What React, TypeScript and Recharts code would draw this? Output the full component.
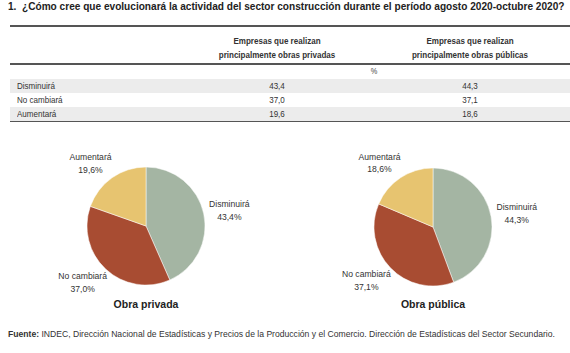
import { PieChart, Pie, Cell } from 'recharts'

const categories = ['Disminuirá', 'No cambiará', 'Aumentará']
const privadaValues = [43.4, 37.0, 19.6]
const publicaValues = [44.3, 37.1, 18.6]
const columnHeaders = [
  ['Empresas que realizan', 'principalmente obras privadas'],
  ['Empresas que realizan', 'principalmente obras públicas'],
]
const pieTitles = ['Obra privada', 'Obra pública']
const COLORS = ['#a4b5a3', '#a84c32', '#e7c470']

const TITLE = '1.  ¿Cómo cree que evolucionará la actividad del sector construcción durante el período agosto 2020-octubre 2020?'
const SOURCE = 'INDEC, Dirección Nacional de Estadísticas y Precios de la Producción y el Comercio. Dirección de Estadísticas del Sector Secundario.'

const fmt = (v: number) => v.toFixed(1).replace('.', ',')

const privadaData = categories.map((name, i) => ({ name, value: privadaValues[i] }))
const publicaData = categories.map((name, i) => ({ name, value: publicaValues[i] }))

const SANS = '"Liberation Sans", Arial, sans-serif'

const RADIAN = Math.PI / 180

function renderLabel(props: any) {
  const { cx, cy, midAngle, outerRadius, name, value } = props
  const r = outerRadius + 18
  const cos = Math.cos(-midAngle * RADIAN)
  const sin = Math.sin(-midAngle * RADIAN)
  const x = cx + r * cos + (cos >= 0 ? 8 : -11)
  const y = cy + r * sin
  return (
    <text x={x} y={y} textAnchor="middle" fontSize={8.6} fill="#333" fontFamily={SANS}>
      <tspan x={x} dy={-3}>{name}</tspan>
      <tspan x={x} dy={12.5}>{fmt(value)}%</tspan>
    </text>
  )
}

const colCenters = [277, 470]
const rowTops = [79, 93, 107]

// condensed look for the table text
const narrow = (extra: any = {}) => ({
  fontFamily: SANS,
  transform: 'scaleX(0.82)',
  ...extra,
})

export default function App() {
  return (
    <div style={{ position: 'fixed', left: 0, top: 0, width: 570, height: 353, background: '#fff', overflow: 'hidden' }}>
      <div style={{ position: 'absolute', left: 8, top: 1, fontFamily: SANS, fontWeight: 700, fontSize: 10.1, color: '#222', whiteSpace: 'pre' }}>
        {TITLE}
      </div>

      {/* table */}
      <div style={{ position: 'absolute', left: 10, top: 25, width: 560, height: 2, background: '#555' }} />
      <div style={{ position: 'absolute', left: 10, top: 63, width: 560, height: 2, background: '#555' }} />
      <div style={{ position: 'absolute', left: 10, top: 120, width: 560, height: 2, background: '#555' }} />
      {columnHeaders.map((lines, c) => (
        <div key={c} style={narrow({ position: 'absolute', left: colCenters[c] - 80, top: 34, width: 160, textAlign: 'center', transformOrigin: '80px 0', fontWeight: 700, fontSize: 9.8, lineHeight: '13.5px', color: '#333' })}>
          {lines[0]}<br />{lines[1]}
        </div>
      ))}
      <div style={narrow({ position: 'absolute', left: 362, top: 66, width: 24, textAlign: 'center', transformOrigin: '12px 0', fontSize: 9, color: '#444' })}>%</div>
      {categories.map((cat, i) => (
        <div key={cat} style={{ position: 'absolute', left: 10, top: rowTops[i], width: 560, height: 14, background: i === 1 ? '#fff' : '#ececec', fontFamily: SANS, fontSize: 9.8, lineHeight: '14px', color: '#333' }}>
          <span style={narrow({ position: 'absolute', left: 7, transformOrigin: '0 0' })}>{cat}</span>
          <span style={narrow({ position: 'absolute', left: colCenters[0] - 10 - 30, width: 60, textAlign: 'center', transformOrigin: '30px 0' })}>{fmt(privadaValues[i])}</span>
          <span style={narrow({ position: 'absolute', left: colCenters[1] - 10 - 30, width: 60, textAlign: 'center', transformOrigin: '30px 0' })}>{fmt(publicaValues[i])}</span>
        </div>
      ))}

      <div style={{ position: 'absolute', left: 0, top: 0 }}>
        <PieChart width={570} height={353} margin={{ top: 0, right: 0, bottom: 0, left: 0 }}>
          <Pie
            data={privadaData}
            dataKey="value"
            nameKey="name"
            cx={146}
            cy={226}
            outerRadius={59}
            startAngle={90}
            endAngle={-270}
            stroke="#fff"
            strokeWidth={0.5}
            label={renderLabel}
            labelLine={false}
            isAnimationActive={false}
          >
            {privadaData.map((d, i) => <Cell key={d.name} fill={COLORS[i]} />)}
          </Pie>
          <Pie
            data={publicaData}
            dataKey="value"
            nameKey="name"
            cx={433}
            cy={227}
            outerRadius={59}
            startAngle={90}
            endAngle={-270}
            stroke="#fff"
            strokeWidth={0.5}
            label={renderLabel}
            labelLine={false}
            isAnimationActive={false}
          >
            {publicaData.map((d, i) => <Cell key={d.name} fill={COLORS[i]} />)}
          </Pie>
        </PieChart>
      </div>

      {pieTitles.map((t, i) => (
        <div key={t} style={{ position: 'absolute', left: [146, 433][i] - 60, top: 298, width: 120, textAlign: 'center', fontFamily: SANS, fontWeight: 700, fontSize: 10.5, color: '#222' }}>
          {t}
        </div>
      ))}

      <div style={{ position: 'absolute', left: 8, top: 329, fontFamily: SANS, fontSize: 8.6, color: '#333', whiteSpace: 'nowrap' }}>
        <b>Fuente:</b> {SOURCE}
      </div>
    </div>
  )
}
